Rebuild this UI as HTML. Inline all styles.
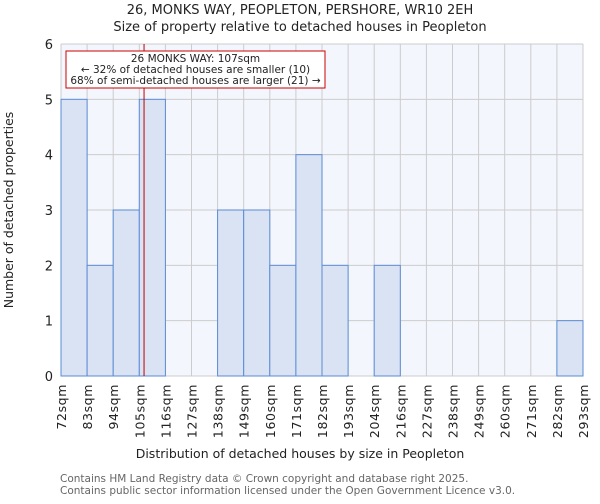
<!DOCTYPE html>
<html><head><meta charset="utf-8"><style>
body{margin:0;background:#fff;font-family:"DejaVu Sans","Liberation Sans",sans-serif}
</style></head><body>
<svg id="c" width="600" height="500" xmlns="http://www.w3.org/2000/svg">
<text x="300" y="14" font-size="13" text-anchor="middle" fill="#222">26, MONKS WAY, PEOPLETON, PERSHORE, WR10 2EH</text>
<text x="300" y="31" font-size="13" text-anchor="middle" fill="#222">Size of property relative to detached houses in Peopleton</text>
<g id="plot"></g>
<text x="300" y="458" font-size="12.5" text-anchor="middle" fill="#222">Distribution of detached houses by size in Peopleton</text>
<text transform="translate(13,210) rotate(-90)" font-size="12.5" text-anchor="middle" fill="#222">Number of detached properties</text>
<text x="60" y="482" font-size="10.5" fill="#666">Contains HM Land Registry data © Crown copyright and database right 2025.</text>
<text x="60" y="494" font-size="10.5" fill="#666">Contains public sector information licensed under the Open Government Licence v3.0.</text>
</svg>
<script>
const binLabels=["72sqm","83sqm","94sqm","105sqm","116sqm","127sqm","138sqm","149sqm","160sqm","171sqm","182sqm","193sqm","204sqm","216sqm","227sqm","238sqm","249sqm","260sqm","271sqm","282sqm","293sqm"];
const binStarts=[72,83,94,105,116,127,138,149,160,171,182,193,204,216,227,238,249,260,271,282,293];
const counts=[5,2,3,5,0,0,3,3,2,4,2,0,2,0,0,0,0,0,0,1];
const yTicks=[0,1,2,3,4,5,6];
const subjectSize=107;
const ns="http://www.w3.org/2000/svg";
const g=document.getElementById('plot');
const L=61,R=583,T=44,B=376,n=counts.length,bw=(R-L)/n;
const xs=i=>L+i*bw;
const y=v=>B-(v/6)*(B-T);
const xv=v=>{let i=0;while(i<binStarts.length-2&&v>=binStarts[i+1])i++;return xs(i)+(v-binStarts[i])/(binStarts[i+1]-binStarts[i])*bw;};
function mk(t,a){const e=document.createElementNS(ns,t);for(const k in a)e.setAttribute(k,a[k]);g.appendChild(e);return e;}
const bg=mk('rect',{x:L,y:T,width:R-L,height:B-T,fill:'#f3f6fd'});


for(let i=0;i<=n;i++){const l=mk('line',{x1:xs(i),x2:xs(i),y1:T,y2:B,stroke:'#ccc','stroke-width':1});

}
yTicks.forEach(v=>{const l=mk('line',{x1:L,x2:R,y1:y(v),y2:y(v),stroke:'#ccc','stroke-width':1});


const t=mk('text',{x:L-8,y:y(v)+5,'font-size':13,'text-anchor':'end',fill:'#222'});t.textContent=v;

});
counts.forEach((c,i)=>{if(!c)return;const r=mk('rect',{x:xs(i),y:y(c),width:bw,height:B-y(c),fill:'#dae3f3',stroke:'#5b8bd6','stroke-width':1});

});
binLabels.forEach((s,i)=>{const t=mk('text',{transform:`translate(${xs(i)+5},${B+8}) rotate(-90)`,'font-size':12.5,'text-anchor':'end',fill:'#222','letter-spacing':'0.6'});t.textContent=s;

});
const rl=mk('line',{x1:xv(subjectSize),x2:xv(subjectSize),y1:T,y2:B,stroke:'#c00000','stroke-width':1});


const box=mk('rect',{x:66,y:51,width:259,height:37,fill:'#fff',stroke:'#cc0000','stroke-width':1});


["26 MONKS WAY: 107sqm","← 32% of detached houses are smaller (10)","68% of semi-detached houses are larger (21) →"].forEach((s,i)=>{const t=mk('text',{x:195.5,y:62+i*11,'font-size':10.5,'text-anchor':'middle',fill:'#222'});t.textContent=s;

});
</script>
</body></html>
